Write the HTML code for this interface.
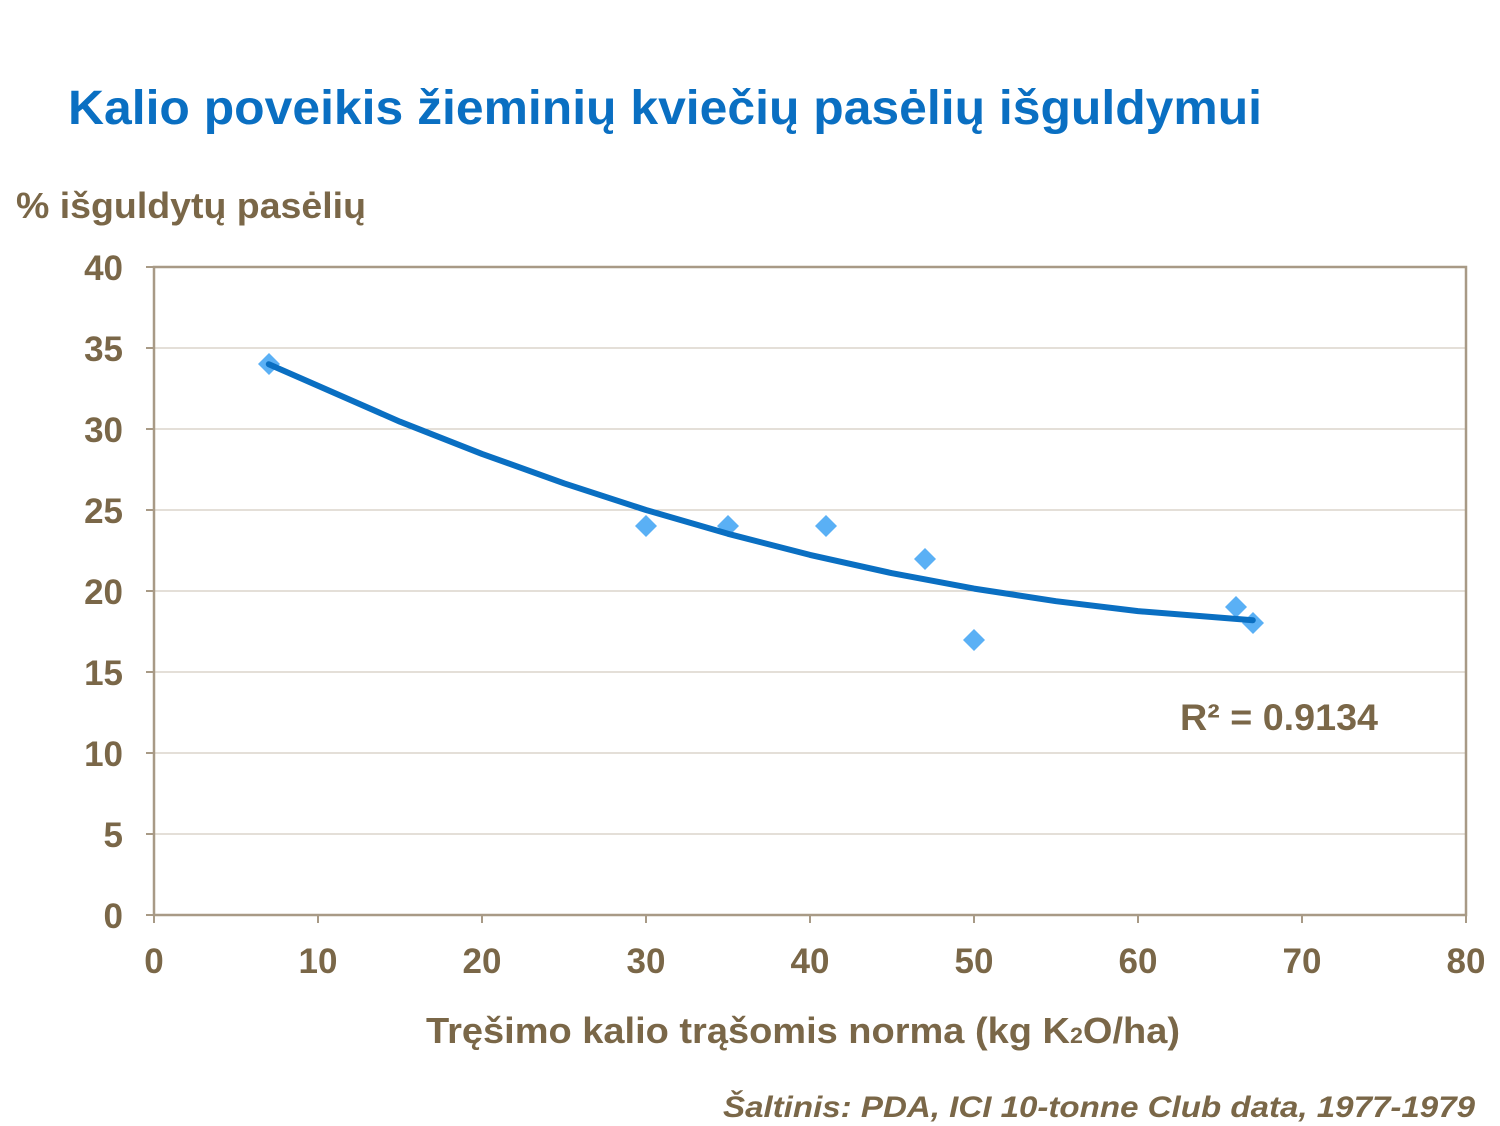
<!DOCTYPE html>
<html><head><meta charset="utf-8"><style>
body{margin:0;background:#fff;}
svg{display:block;font-family:"Liberation Sans",sans-serif;font-weight:bold;}
</style></head><body>
<svg width="1500" height="1126" viewBox="0 0 1500 1126">
<text x="68" y="124" font-size="48" fill="#0a6fc2" textLength="1194" lengthAdjust="spacingAndGlyphs">Kalio poveikis žieminių kviečių pasėlių išguldymui</text>
<text x="16" y="218" font-size="36" fill="#7a6748" textLength="350" lengthAdjust="spacingAndGlyphs">% išguldytų pasėlių</text>
<g stroke="#c9bfb0" stroke-width="1">
<line x1="154" x2="1466" y1="348" y2="348"/><line x1="154" x2="1466" y1="429" y2="429"/>
<line x1="154" x2="1466" y1="510" y2="510"/><line x1="154" x2="1466" y1="591" y2="591"/>
<line x1="154" x2="1466" y1="672" y2="672"/><line x1="154" x2="1466" y1="753" y2="753"/>
<line x1="154" x2="1466" y1="834" y2="834"/>
</g>
<rect x="154" y="267" width="1312" height="648" fill="none" stroke="#a89a86" stroke-width="2.5"/>
<g stroke="#a89a86" stroke-width="2">
<line x1="146" x2="154" y1="267" y2="267"/><line x1="146" x2="154" y1="348" y2="348"/><line x1="146" x2="154" y1="429" y2="429"/><line x1="146" x2="154" y1="510" y2="510"/><line x1="146" x2="154" y1="591" y2="591"/><line x1="146" x2="154" y1="672" y2="672"/><line x1="146" x2="154" y1="753" y2="753"/><line x1="146" x2="154" y1="834" y2="834"/><line x1="146" x2="154" y1="915" y2="915"/>
<line x1="318" x2="318" y1="915" y2="923"/><line x1="482" x2="482" y1="915" y2="923"/><line x1="646" x2="646" y1="915" y2="923"/><line x1="810" x2="810" y1="915" y2="923"/><line x1="974" x2="974" y1="915" y2="923"/><line x1="1138" x2="1138" y1="915" y2="923"/><line x1="1302" x2="1302" y1="915" y2="923"/><line x1="1466" x2="1466" y1="915" y2="923"/><line x1="154" x2="154" y1="915" y2="923"/>
</g>
<g font-size="35" fill="#7a6748" text-anchor="end">
<text x="123" y="280">40</text><text x="123" y="361">35</text><text x="123" y="442">30</text><text x="123" y="523">25</text><text x="123" y="604">20</text><text x="123" y="685">15</text><text x="123" y="766">10</text><text x="123" y="847">5</text><text x="123" y="928">0</text>
</g>
<g font-size="35" fill="#7a6748" text-anchor="middle">
<text x="154" y="973">0</text><text x="318" y="973">10</text><text x="482" y="973">20</text><text x="646" y="973">30</text><text x="810" y="973">40</text><text x="974" y="973">50</text><text x="1138" y="973">60</text><text x="1302" y="973">70</text><text x="1466" y="973">80</text>
</g>
<g fill="#5ab0f5">
<path d="M269 353l11 11-11 11-11-11z"/><path d="M646 515l11 11-11 11-11-11z"/><path d="M728 515l11 11-11 11-11-11z"/><path d="M826 515l11 11-11 11-11-11z"/><path d="M925 548l11 11-11 11-11-11z"/><path d="M974 629l11 11-11 11-11-11z"/><path d="M1236 596l11 11-11 11-11-11z"/><path d="M1253 612l11 11-11 11-11-11z"/>
</g>
<polyline fill="none" stroke="#0a6fc2" stroke-width="6" stroke-linecap="round" stroke-linejoin="round" points="268.8,364.2 400,421.7 482,453.9 564,483.3 646,510 728,533.8 810,554.9 892,573.2 974,588.6 1056,601.2 1138,611.1 1252.8,620.2"/>
<text x="1180" y="730" font-size="37" fill="#7a6748" textLength="198" lengthAdjust="spacingAndGlyphs">R² = 0.9134</text>
<text x="426" y="1043" font-size="36" fill="#7a6748" textLength="754" lengthAdjust="spacingAndGlyphs">Tręšimo kalio trąšomis norma  (kg K<tspan font-size="22">2</tspan>O/ha)</text>
<text x="723" y="1117" font-size="30" font-style="italic" fill="#7a6748" textLength="752" lengthAdjust="spacingAndGlyphs">Šaltinis:  PDA, ICI 10-tonne Club data, 1977-1979</text>
</svg>
</body></html>
